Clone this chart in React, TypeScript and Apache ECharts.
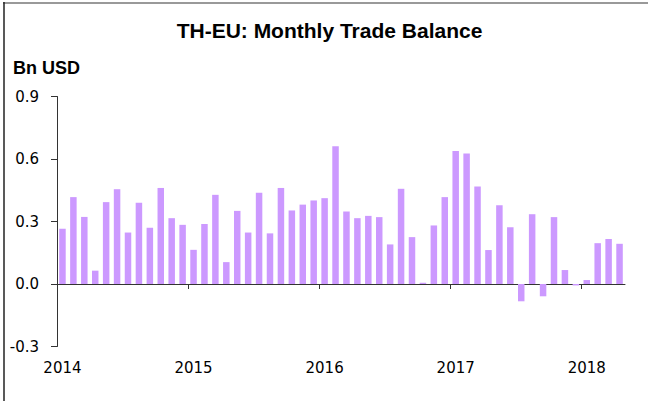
import React, { useEffect, useRef } from "react";
import * as echarts from "echarts";

const years = ["2014", "2015", "2016", "2017", "2018"];

const values2014 = [0.265, 0.417, 0.322, 0.064, 0.393, 0.455, 0.247, 0.39, 0.27, 0.461, 0.316, 0.284];
const values2015 = [0.164, 0.288, 0.428, 0.105, 0.351, 0.247, 0.438, 0.243, 0.461, 0.353, 0.381, 0.401];
const values2016 = [0.412, 0.661, 0.348, 0.316, 0.327, 0.321, 0.19, 0.457, 0.225, 0.006, 0.281, 0.417];
const values2017 = [0.639, 0.626, 0.468, 0.163, 0.378, 0.273, -0.083, 0.335, -0.059, 0.321, 0.067, -0.007];
const values2018 = [0.019, 0.196, 0.216, 0.193];

const values = [...values2014, ...values2015, ...values2016, ...values2017, ...values2018];

// month index positions (month i occupies [i, i+1] on the x scale)
const yearTickPositions = [0, 12, 24, 36, 48];
const yearLabelPositions = [0.5, 12.5, 24.5, 36.5, 48.5];

const TITLE = "TH-EU: Monthly Trade Balance";
const UNIT = "Bn USD";

export default function App() {
  const ref = useRef<HTMLDivElement>(null);
  useEffect(() => {
    if (!ref.current) return;
    const chart = echarts.init(ref.current, null, { renderer: "svg" });
    const axisColor = "#333";
    const labelFont = { fontFamily: "DejaVu Sans", fontSize: 15, color: "#000" };
    chart.setOption({
      animation: false,
      backgroundColor: "#fff",
      grid: {
        left: 57,
        right: 23,
        top: 96.5,
        bottom: 54.5,
        containLabel: false,
        outerBoundsMode: "none",
      },
      graphic: [
        { type: "line", shape: { x1: 3, y1: 3, x2: 648, y2: 3 }, style: { stroke: "#999", lineWidth: 2 } },
        { type: "line", shape: { x1: 4, y1: 2, x2: 4, y2: 401 }, style: { stroke: "#222", lineWidth: 1.5 } },
        {
          type: "text",
          x: 329.5,
          y: 30,
          style: {
            text: TITLE,
            fontFamily: "Liberation Sans",
            fontWeight: "bold",
            fontSize: 21,
            fill: "#000",
            align: "center",
            verticalAlign: "middle",
          },
        },
        {
          type: "text",
          x: 13,
          y: 67.5,
          style: {
            text: UNIT,
            fontFamily: "Liberation Sans",
            fontWeight: "bold",
            fontSize: 18,
            fill: "#000",
            align: "left",
            verticalAlign: "middle",
          },
        },
      ],
      xAxis: {
        type: "value",
        min: 0,
        max: values.length,
        interval: 12,
        axisLine: { show: true, onZero: true, lineStyle: { color: axisColor, width: 1 } },
        axisTick: {
          show: true,
          length: 5,
          customValues: yearTickPositions,
          lineStyle: { color: axisColor, width: 1 },
        },
        axisLabel: {
          customValues: yearLabelPositions,
          formatter: (v: number) => years[Math.floor(v / 12)] ?? "",
          margin: 13.5,
          ...labelFont,
        },
        splitLine: { show: false },
      },
      yAxis: {
        type: "value",
        min: -0.3,
        max: 0.9,
        interval: 0.3,
        axisLine: { show: true, onZero: false, lineStyle: { color: axisColor, width: 1 } },
        axisTick: { show: true, length: 6, lineStyle: { color: axisColor, width: 1 } },
        axisLabel: { formatter: (v: number) => v.toFixed(1), margin: 18, ...labelFont },
        splitLine: { show: false },
      },
      series: [
        {
          type: "bar",
          data: values.map((v, i) => [i + 0.5, v]),
          barWidth: 6.5,
          itemStyle: { color: "#CC99FF" },
        },
      ],
    });
    return () => chart.dispose();
  }, []);
  return (
    <div
      ref={ref}
      style={{ position: "fixed", left: 0, top: 0, width: 648, height: 401, background: "#fff" }}
    />
  );
}
